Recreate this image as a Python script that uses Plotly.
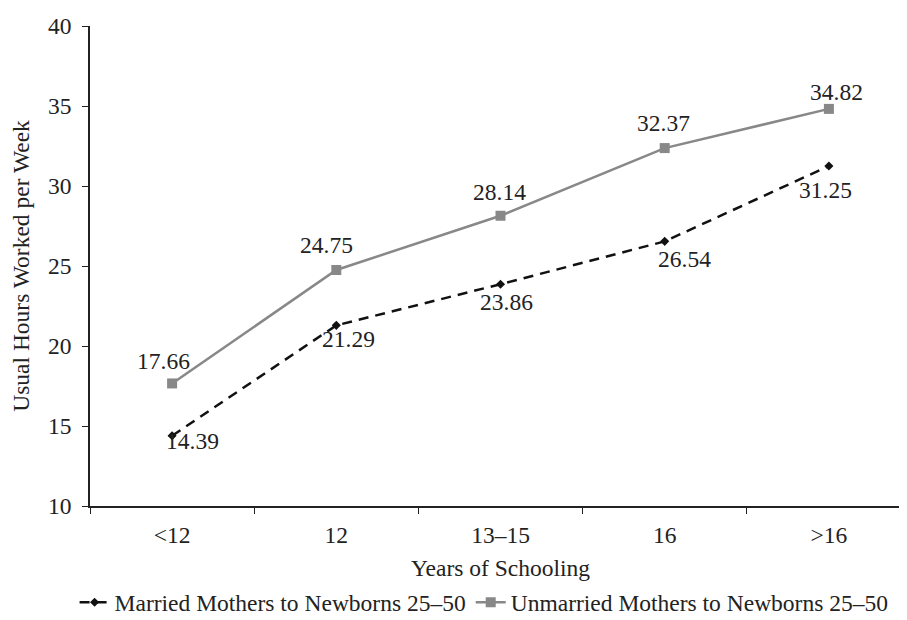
import plotly.graph_objects as go

categories = ["<12", "12", "13–15", "16", ">16"]
married = [14.39, 21.29, 23.86, 26.54, 31.25]
unmarried = [17.66, 24.75, 28.14, 32.37, 34.82]

# label offsets (pixels) relative to each point
married_dx = [20, 12, 6, 20, -3]
married_dy = [-5, -14, -18, -18, -24]
unmarried_dx = [-9, -10, -1, -1, 8]
unmarried_dy = [22, 25, 24, 25, 17]

FONT = "Liberation Serif, Times New Roman, serif"
TXT = "#222222"
GRAY = "#888888"

fig = go.Figure()
fig.add_trace(go.Scatter(
    x=categories, y=married, name="Married Mothers to Newborns 25–50",
    mode="lines+markers",
    line=dict(color="#111111", width=2.5, dash="10px,7px"),
    marker=dict(symbol="diamond", size=7, color="#111111"),
))
fig.add_trace(go.Scatter(
    x=categories, y=unmarried, name="Unmarried Mothers to Newborns 25–50",
    mode="lines+markers",
    line=dict(color=GRAY, width=2.5),
    marker=dict(symbol="square", size=10, color=GRAY),
))

# annotations use category index positions (category names like "12" would be read as indices)
for i, (v, dx, dy) in enumerate(zip(married, married_dx, married_dy)):
    fig.add_annotation(x=i, y=v, text=f"{v:.2f}", showarrow=False,
                       xshift=dx, yshift=dy, font=dict(family=FONT, size=23.5, color=TXT))
for i, (v, dx, dy) in enumerate(zip(unmarried, unmarried_dx, unmarried_dy)):
    fig.add_annotation(x=i, y=v, text=f"{v:.2f}", showarrow=False,
                       xshift=dx, yshift=dy, font=dict(family=FONT, size=23.5, color=TXT))

fig.update_layout(
    width=907, height=620,
    margin=dict(l=79, r=4, t=18, b=109),
    paper_bgcolor="white", plot_bgcolor="white",
    font=dict(family=FONT, size=23.5, color=TXT),
    showlegend=True,
    legend=dict(orientation="h", x=0.48, xanchor="center", y=-0.155, yanchor="top",
                font=dict(family=FONT, size=23.5, color=TXT), itemwidth=30,
                tracegroupgap=0),
)
fig.update_xaxes(
    type="category", range=[-0.5, 4.5], showline=True, linecolor="#222", linewidth=1.5,
    ticks="outside", tickson="boundaries", ticklen=6, tickcolor="#222",
    ticklabelstandoff=7,
    showgrid=False, tickfont=dict(family=FONT, size=23.5, color=TXT),
    title=dict(text="Years of Schooling", font=dict(family=FONT, size=23.5, color=TXT), standoff=13),
)
fig.update_yaxes(
    range=[10, 40], dtick=5, showline=True, linecolor="#222", linewidth=1.5,
    ticks="outside", ticklen=6, tickcolor="#222", showgrid=False, zeroline=False,
    ticklabelstandoff=6,
    tickfont=dict(family=FONT, size=23.5, color=TXT),
    title=dict(text="Usual Hours Worked per Week", font=dict(family=FONT, size=23.5, color=TXT), standoff=20),
)

fig.write_html("out.html")
